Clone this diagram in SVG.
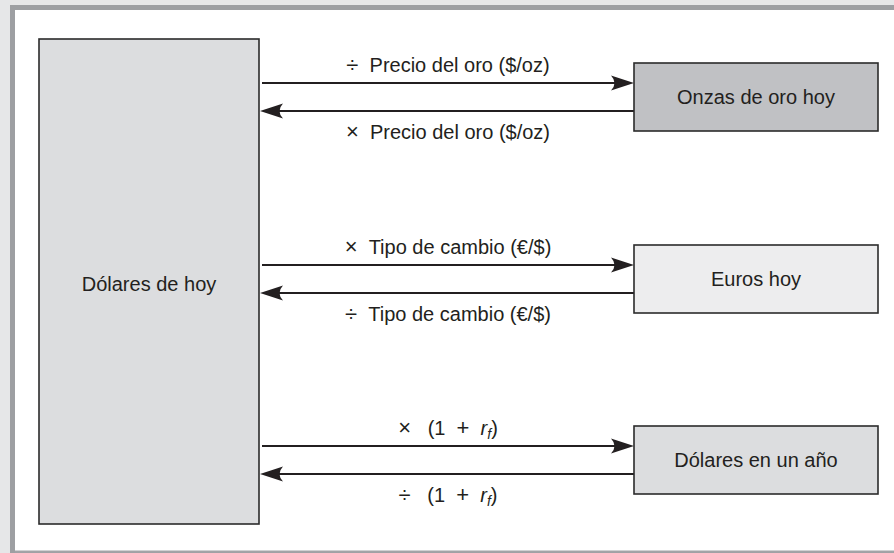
<svg xmlns="http://www.w3.org/2000/svg" width="894" height="553" viewBox="0 0 894 553">
<style>
.node{stroke:#2b2b2b;stroke-width:1.6}
.lbl{font-family:"Liberation Sans",Arial,sans-serif;font-size:20px;fill:#231f20;text-anchor:middle}
.op{font-size:22px}
.con{stroke:#231f20;stroke-width:2.2;fill:none}
</style>
<defs>
<marker id="ah" markerUnits="userSpaceOnUse" markerWidth="40" markerHeight="40" viewBox="-20 -20 40 40" refX="0" refY="0" orient="auto" overflow="visible">
<path d="M10,0 L-13,-7.5 Q-6,0 -13,7.5 Z" fill="#231f20"/>
</marker>
</defs>
<rect x="0" y="0" width="894" height="553" fill="#e6e7e8"/>
<rect x="10" y="5" width="884" height="548" fill="#9d9fa2"/>
<rect x="15" y="10" width="879" height="541" fill="#ffffff"/>
<rect x="15" y="550.5" width="879" height="2" fill="#a3a4a7"/>

<g id="connectors">
<line class="con" x1="262" y1="83" x2="624" y2="83" marker-end="url(#ah)"/>
<line class="con" x1="634" y1="111" x2="270" y2="111" marker-end="url(#ah)"/>
<line class="con" x1="262" y1="265" x2="624" y2="265" marker-end="url(#ah)"/>
<line class="con" x1="634" y1="293" x2="270" y2="293" marker-end="url(#ah)"/>
<line class="con" x1="262" y1="446" x2="624" y2="446" marker-end="url(#ah)"/>
<line class="con" x1="634" y1="474" x2="270" y2="474" marker-end="url(#ah)"/>
<text class="lbl" x="448" y="72"><tspan class="op">÷</tspan>&#160;&#160;Precio del oro ($/oz)</text>
<text class="lbl" x="448" y="139"><tspan class="op">×</tspan>&#160;&#160;Precio del oro ($/oz)</text>
<text class="lbl" x="448" y="254"><tspan class="op">×</tspan>&#160;&#160;Tipo de cambio (€/$)</text>
<text class="lbl" x="448" y="321"><tspan class="op">÷</tspan>&#160;&#160;Tipo de cambio (€/$)</text>
<text class="lbl" x="448" y="435"><tspan class="op">×</tspan>&#160;&#160;&#160;(1&#160;&#160;<tspan class="op">+</tspan>&#160;&#160;<tspan font-style="italic">r</tspan><tspan font-style="italic" font-size="14" dy="4">f</tspan><tspan dy="-4">)</tspan></text>
<text class="lbl" x="448" y="502"><tspan class="op">÷</tspan>&#160;&#160;&#160;(1&#160;&#160;<tspan class="op">+</tspan>&#160;&#160;<tspan font-style="italic">r</tspan><tspan font-style="italic" font-size="14" dy="4">f</tspan><tspan dy="-4">)</tspan></text>
</g>

<g id="dolares-hoy">
<rect class="node" x="39" y="39" width="220" height="485" fill="#dcdddf"/>
<text class="lbl" x="149" y="291">Dólares de hoy</text>
</g>
<g id="onzas">
<rect class="node" x="634" y="63" width="244" height="68" fill="#c0c1c4"/>
<text class="lbl" x="756" y="104">Onzas de oro hoy</text>
</g>
<g id="euros">
<rect class="node" x="634" y="245" width="244" height="68" fill="#ededee"/>
<text class="lbl" x="756" y="286">Euros hoy</text>
</g>
<g id="dolares-ano">
<rect class="node" x="634" y="426" width="244" height="68" fill="#dcdddf"/>
<text class="lbl" x="756" y="467">Dólares en un año</text>
</g>
</svg>
